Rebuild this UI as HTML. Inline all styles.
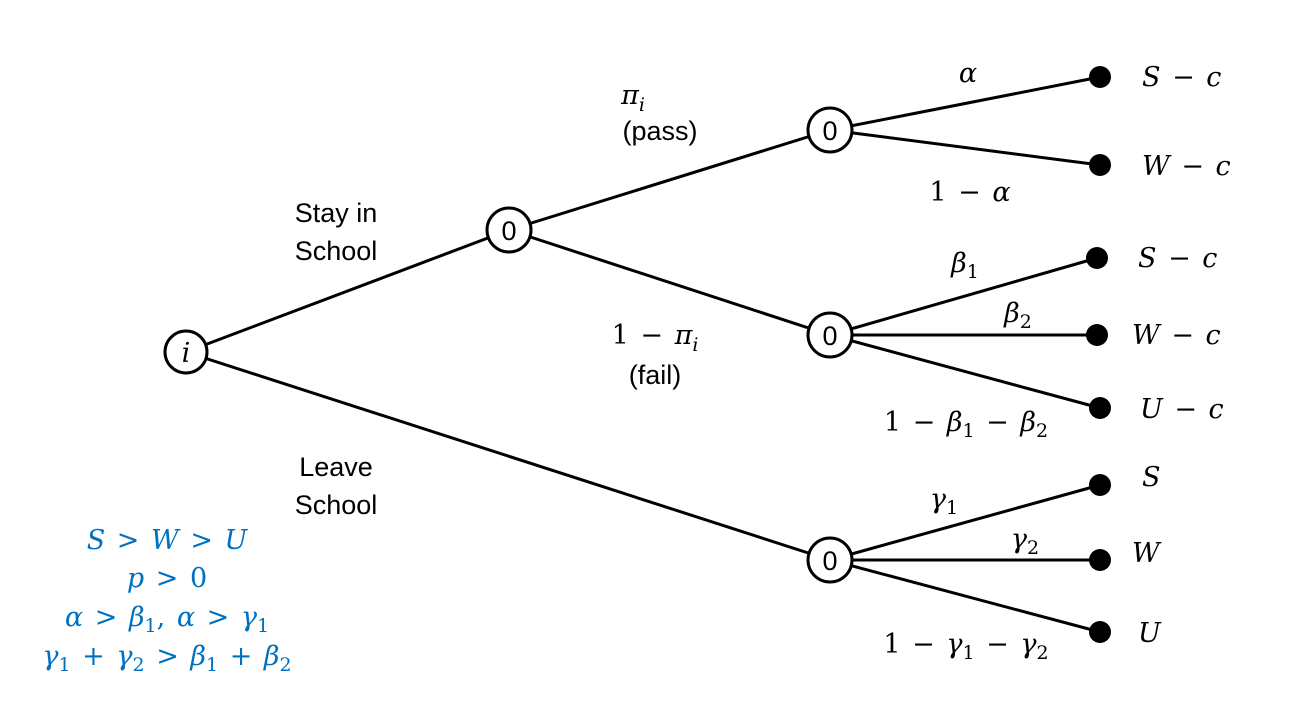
<!DOCTYPE html>
<html><head><meta charset="utf-8"><style>
body{margin:0;background:#fff;}
svg{display:block;}
text{font-family:"Liberation Sans",sans-serif;font-size:27px;fill:#000;}
.m{font-family:"DejaVu Serif","Liberation Serif",serif;font-style:italic;font-size:27px;word-spacing:3px;}
.b{fill:#0070c0;}
.n{font-style:normal;}
</style></head><body>
<svg width="1304" height="709" viewBox="0 0 1304 709">
<g stroke="#000" stroke-width="3" fill="none">
<line x1="186" y1="352" x2="509" y2="230"/>
<line x1="186" y1="352" x2="830" y2="560"/>
<line x1="509" y1="230" x2="830" y2="130"/>
<line x1="509" y1="230" x2="830" y2="335"/>
<line x1="830" y1="130" x2="1100" y2="77"/>
<line x1="830" y1="130" x2="1100" y2="165"/>
<line x1="830" y1="335" x2="1097" y2="258"/>
<line x1="830" y1="335" x2="1097" y2="335"/>
<line x1="830" y1="335" x2="1100" y2="408"/>
<line x1="830" y1="560" x2="1100" y2="485"/>
<line x1="830" y1="560" x2="1100" y2="560"/>
<line x1="830" y1="560" x2="1100" y2="632"/>
</g>
<g fill="#fff" stroke="#000" stroke-width="3">
<circle cx="186" cy="352" r="21"/>
<circle cx="509" cy="230" r="22"/>
<circle cx="830" cy="130" r="22"/>
<circle cx="830" cy="335" r="22"/>
<circle cx="830" cy="560" r="22"/>
</g>
<text x="186" y="362" text-anchor="middle" class="m">i</text>
<text x="509" y="240" text-anchor="middle">0</text>
<text x="830" y="140" text-anchor="middle">0</text>
<text x="830" y="345" text-anchor="middle">0</text>
<text x="830" y="570" text-anchor="middle">0</text>
<g fill="#000">
<circle cx="1100" cy="77" r="11"/>
<circle cx="1100" cy="165" r="11"/>
<circle cx="1097" cy="258" r="11"/>
<circle cx="1097" cy="335" r="11"/>
<circle cx="1100" cy="408" r="11"/>
<circle cx="1100" cy="485" r="11"/>
<circle cx="1100" cy="560" r="11"/>
<circle cx="1100" cy="632" r="11"/>
</g>
<g>
<text x="1142" y="86" class="m">S <tspan class="n">−</tspan> c</text>
<text x="1142" y="175" class="m">W <tspan class="n">−</tspan> c</text>
<text x="1138" y="267" class="m">S <tspan class="n">−</tspan> c</text>
<text x="1132" y="344" class="m">W <tspan class="n">−</tspan> c</text>
<text x="1140" y="418" class="m">U <tspan class="n">−</tspan> c</text>
<text x="1142" y="486" class="m">S</text>
<text x="1132" y="562" class="m">W</text>
<text x="1138" y="642" class="m">U</text>
</g>
<text x="336" y="222" text-anchor="middle">Stay in</text>
<text x="336" y="260" text-anchor="middle">School</text>
<text x="336" y="476" text-anchor="middle">Leave</text>
<text x="336" y="514" text-anchor="middle">School</text>
<text x="633" y="104" text-anchor="middle" class="m">π<tspan font-size="19" dy="7">i</tspan></text>
<text x="660" y="140" text-anchor="middle">(pass)</text>
<text x="655" y="344" text-anchor="middle" class="m"><tspan class="n">1 − </tspan>π<tspan font-size="19" dy="7">i</tspan></text>
<text x="655" y="384" text-anchor="middle">(fail)</text>
<text x="968" y="82" text-anchor="middle" class="m">α</text>
<text x="970" y="201" text-anchor="middle" class="m"><tspan class="n">1 − </tspan>α</text>
<text x="965" y="272" text-anchor="middle" class="m">β<tspan class="n" font-size="19" dy="6">1</tspan></text>
<text x="1018" y="322" text-anchor="middle" class="m">β<tspan class="n" font-size="19" dy="6">2</tspan></text>
<text x="966" y="431" text-anchor="middle" class="m"><tspan class="n">1 − </tspan>β<tspan class="n" font-size="19" dy="6">1</tspan><tspan class="n" dy="-6"> − </tspan>β<tspan class="n" font-size="19" dy="6">2</tspan></text>
<text x="944" y="508" text-anchor="middle" class="m">γ<tspan class="n" font-size="19" dy="6">1</tspan></text>
<text x="1025" y="548" text-anchor="middle" class="m">γ<tspan class="n" font-size="19" dy="6">2</tspan></text>
<text x="966" y="653" text-anchor="middle" class="m"><tspan class="n">1 − </tspan>γ<tspan class="n" font-size="19" dy="6">1</tspan><tspan class="n" dy="-6"> − </tspan>γ<tspan class="n" font-size="19" dy="6">2</tspan></text>
<g>
<text x="167" y="549" text-anchor="middle" class="m b">S <tspan class="n">&gt;</tspan> W <tspan class="n">&gt;</tspan> U</text>
<text x="167" y="587" text-anchor="middle" class="m b">p <tspan class="n">&gt; 0</tspan></text>
<text x="167" y="626" text-anchor="middle" class="m b">α <tspan class="n">&gt; </tspan>β<tspan class="n" font-size="19" dy="6">1</tspan><tspan class="n" dy="-6">, </tspan>α <tspan class="n">&gt; </tspan>γ<tspan class="n" font-size="19" dy="6">1</tspan></text>
<text x="167" y="665" text-anchor="middle" class="m b">γ<tspan class="n" font-size="19" dy="6">1</tspan><tspan class="n" dy="-6"> + </tspan>γ<tspan class="n" font-size="19" dy="6">2</tspan><tspan class="n" dy="-6"> &gt; </tspan>β<tspan class="n" font-size="19" dy="6">1</tspan><tspan class="n" dy="-6"> + </tspan>β<tspan class="n" font-size="19" dy="6">2</tspan></text>
</g>
</svg>
</body></html>
